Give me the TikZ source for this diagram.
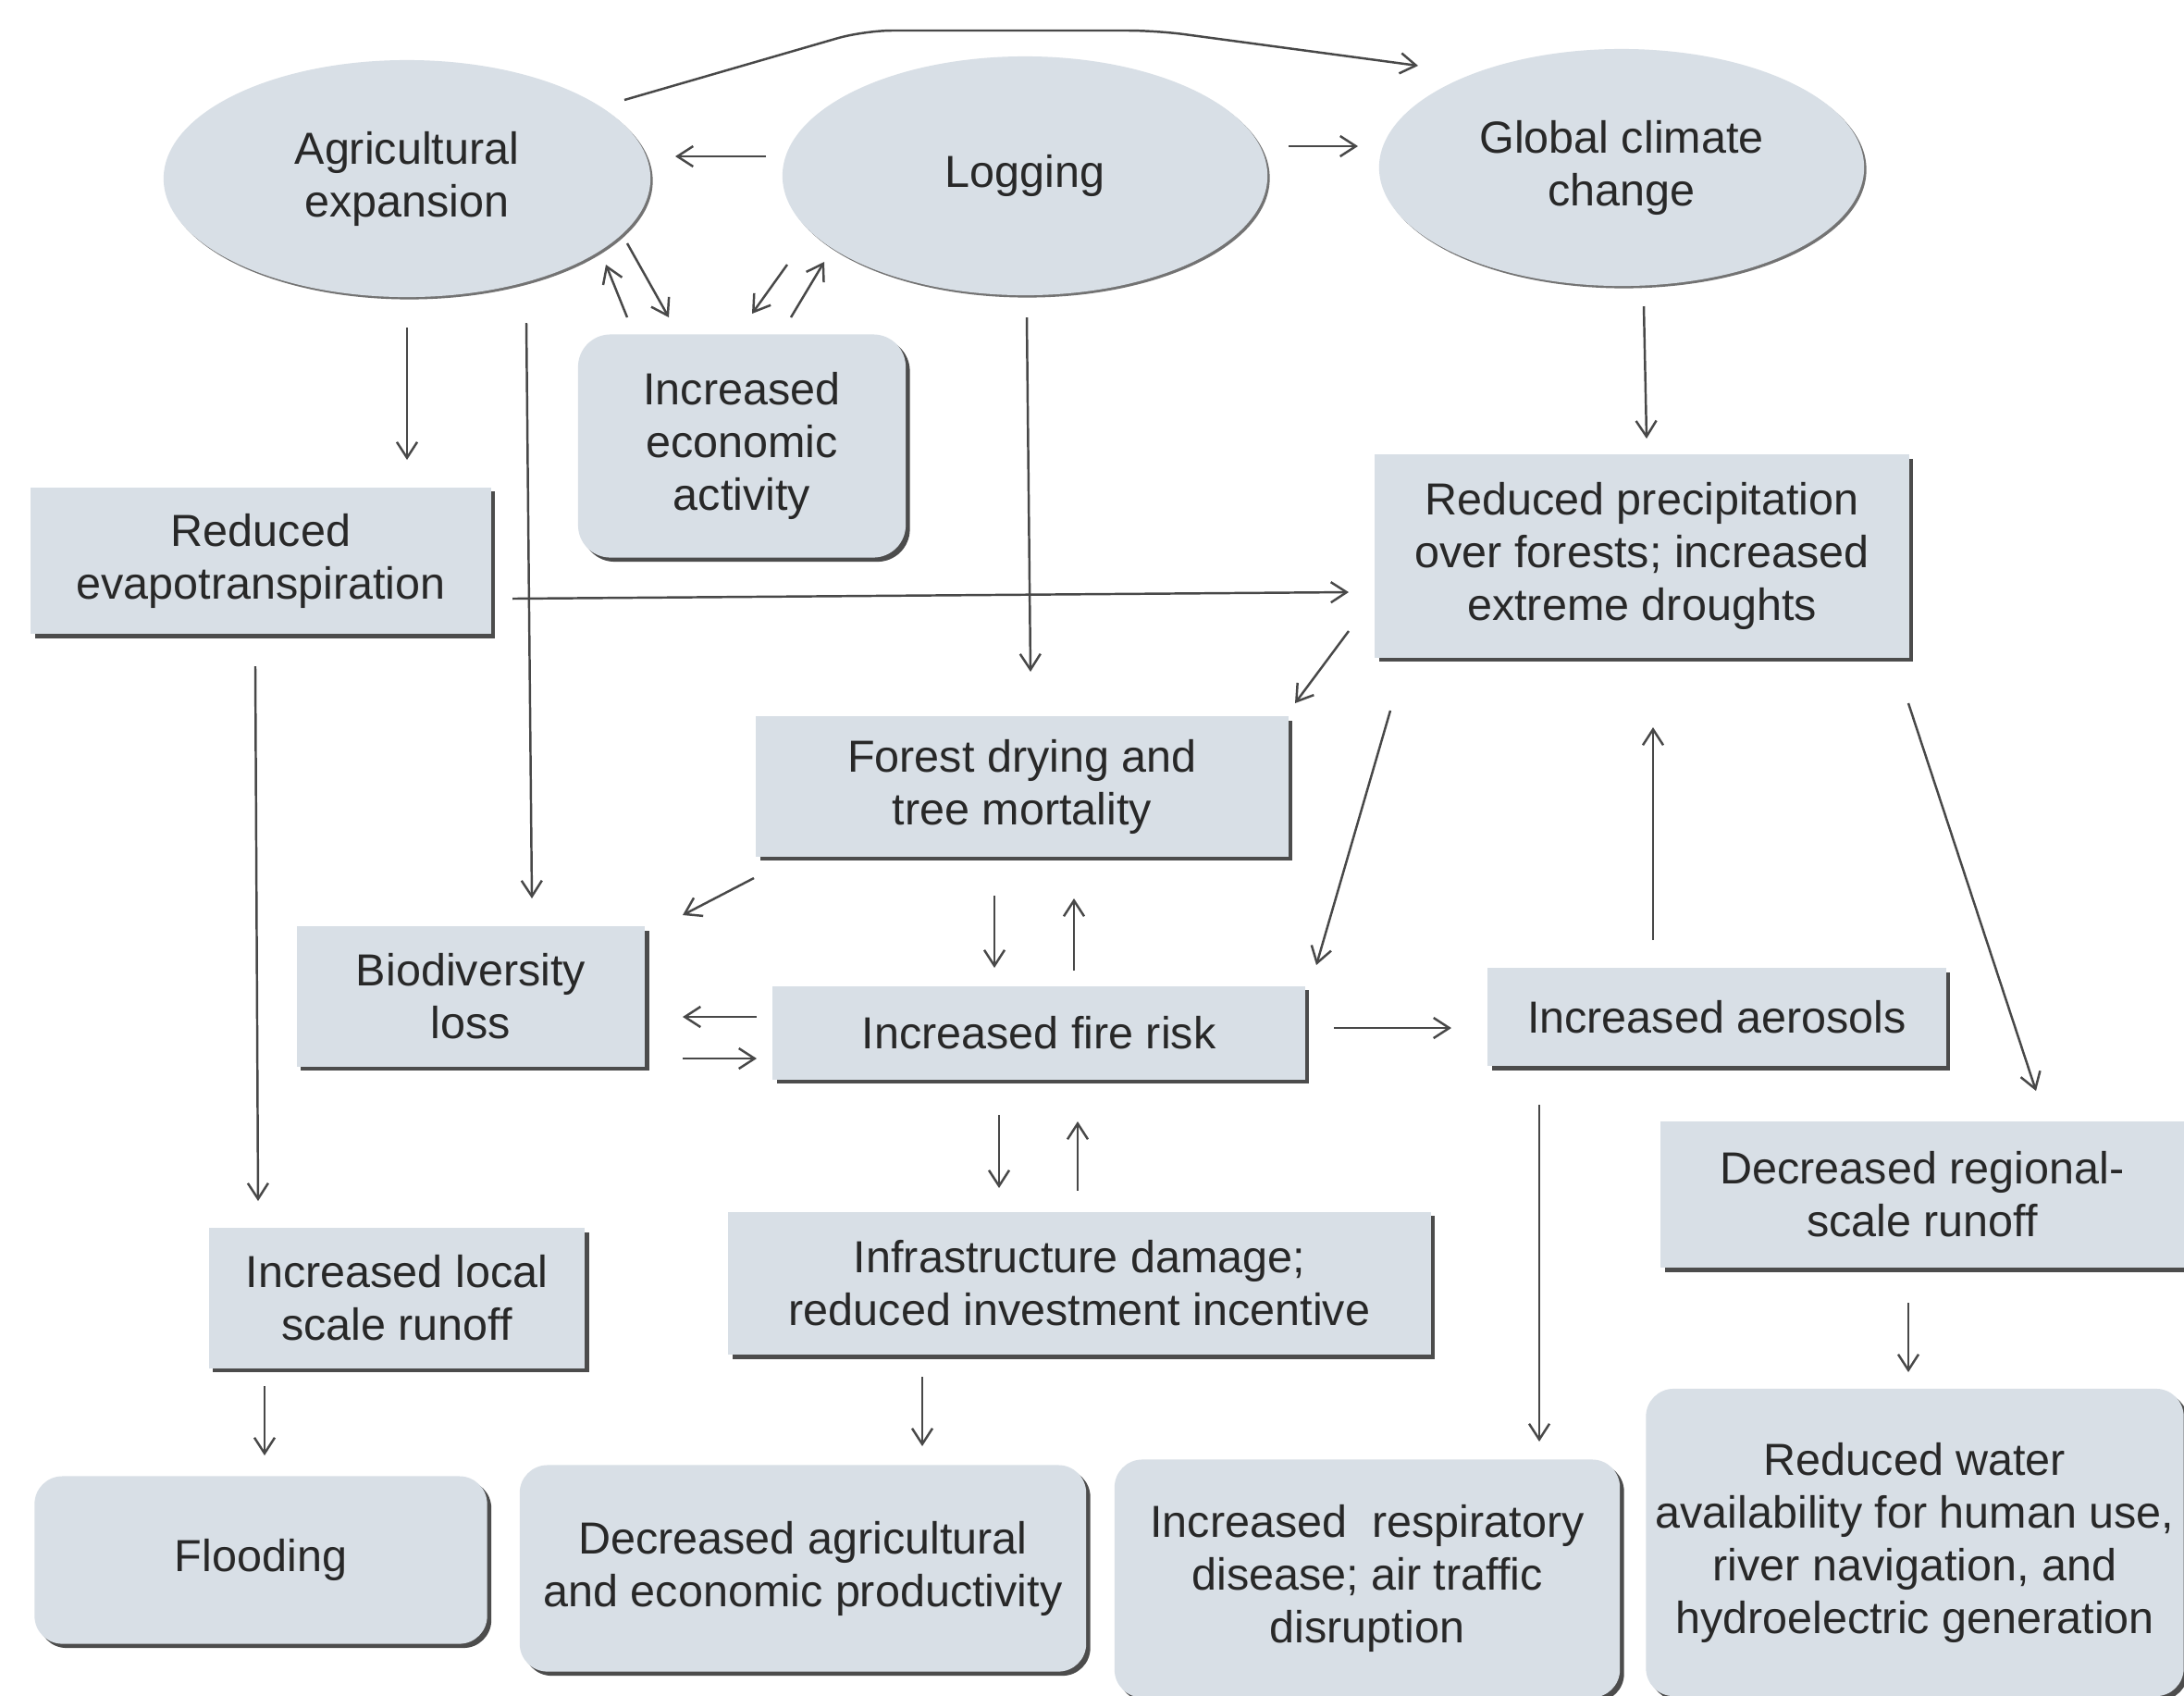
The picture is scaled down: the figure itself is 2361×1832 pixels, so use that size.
\documentclass[tikz,border=0pt]{standalone}
\usepackage{fontspec}
\setmainfont{Liberation Sans}
\usetikzlibrary{shapes.geometric,shadows,calc,arrows.meta}
\definecolor{boxfill}{RGB}{216,223,230}
\definecolor{linecol}{RGB}{72,72,72}
\definecolor{txt}{RGB}{40,40,40}
\begin{document}
\begin{tikzpicture}[x=0.01cm,y=-0.01cm,
 base/.style={fill=boxfill, text=txt, font=\fontsize{13.8}{16.2}\selectfont, align=center, inner sep=0pt},
 sbox/.style={base, rectangle, drop shadow={shadow xshift=0.045cm, shadow yshift=-0.045cm, fill=black!70, opacity=1}},
 rbox/.style={sbox, rounded corners=0.3cm},
 ell/.style={base, ellipse, drop shadow={shadow xshift=0.025cm, shadow yshift=-0.025cm, fill=black!55, opacity=1}},
 arr/.style={-{Straight Barb[length=0.17cm,width=0.22cm]}, draw=linecol, line width=0.7pt}]
\useasboundingbox (0,0) rectangle (2361,1832);
\clip (0,0) rectangle (2361,1832);
\fill[white] (0,0) rectangle (2361,1832);

% ellipses
\node[ell, minimum width=5.26cm, minimum height=2.56cm] (agri) at (440,193) {Agricultural\\expansion};
\node[ell, minimum width=5.24cm, minimum height=2.58cm] (log) at (1108,190) {Logging};
\node[ell, minimum width=5.24cm, minimum height=2.56cm] (glob) at (1753,181) {Global climate\\change};

% boxes
\node[rbox, rounded corners=0.35cm, minimum width=3.54cm, minimum height=2.41cm] (econ) at (802,482) {Increased\\economic\\activity};
\node[sbox, minimum width=4.97cm, minimum height=1.58cm] (evapo) at (282,606) {Reduced\\evapotranspiration};
\node[sbox, minimum width=5.77cm, minimum height=2.19cm] (precip) at (1775,601) {Reduced precipitation\\over forests; increased\\extreme droughts};
\node[sbox, minimum width=5.75cm, minimum height=1.51cm] (forest) at (1105,850) {Forest drying and\\tree mortality};
\node[sbox, minimum width=3.76cm, minimum height=1.51cm] (biod) at (509,1077) {Biodiversity\\loss};
\node[sbox, minimum width=5.75cm, minimum height=1.01cm] (fire) at (1123,1116) {Increased fire risk};
\node[sbox, minimum width=4.95cm, minimum height=1.06cm] (aeros) at (1856,1099) {Increased aerosols};
\node[sbox, minimum width=5.65cm, minimum height=1.58cm] (regional) at (2078,1291) {Decreased regional-\\scale runoff};
\node[sbox, minimum width=4.06cm, minimum height=1.51cm] (local) at (429,1403) {Increased local\\scale runoff};
\node[sbox, minimum width=7.59cm, minimum height=1.54cm] (infra) at (1167,1387) {Infrastructure damage;\\reduced investment incentive};
\node[rbox, minimum width=4.89cm, minimum height=1.81cm] (flood) at (282,1686) {Flooding};
\node[rbox, minimum width=6.12cm, minimum height=2.23cm] (decagri) at (868,1695) {Decreased agricultural\\and economic productivity};
\node[rbox, minimum width=5.46cm, minimum height=2.57cm] (resp) at (1478,1706) {Increased\ \ respiratory\\disease; air traffic\\disruption};
\node[rbox, minimum width=5.81cm, minimum height=3.32cm] (water) at (2070,1667) {Reduced water\\availability for human use,\\river navigation, and\\hydroelectric generation};

% connectors
\draw[arr, rounded corners=0.3cm] ($(agri)+(235,-85)$) -- (934,33) -- (1250,33) -- ($(glob)+(-220,-110)$);
\draw[arr] ($(log)+(-280,-21)$) -- ($(agri)+(290,-24)$);
\draw[arr] ($(log)+(285,-32)$) -- ($(glob)+(-285,-23)$);
\draw[arr] ($(econ)+(-124,-139)$) -- ($(agri)+(215,93)$);
\draw[arr] ($(agri)+(238,70)$) -- ($(econ)+(-79,-139)$);
\draw[arr] ($(log)+(-257,96)$) -- ($(econ)+(11,-143)$);
\draw[arr] ($(econ)+(53,-139)$) -- ($(log)+(-217,93)$);
\draw[arr] ($(agri)+(0,161)$) -- ($(evapo)+(158,-109)$);
\draw[arr] ($(agri)+(129,156)$) -- ($(biod)+(66,-106)$);
\draw[arr] ($(log)+(2,153)$) -- ($(forest)+(9,-124)$);
\draw[arr] ($(glob)+(24,150)$) -- ($(precip)+(5,-127)$);
\draw[arr] ($(evapo)+(272,41)$) -- ($(precip)+(-317,39)$);
\draw[arr] ($(precip)+(-317,81)$) -- ($(forest)+(295,-90)$);
\draw[arr] ($(precip)+(-272,167)$) -- ($(fire)+(300,-73)$);
\draw[arr] ($(precip)+(288,159)$) -- ($(regional)+(123,-112)$);
\draw[arr] ($(forest)+(-290,99)$) -- ($(biod)+(229,-88)$);
\draw[arr] ($(forest)+(-30,118)$) -- ($(fire)+(-48,-70)$);
\draw[arr] ($(fire)+(38,-67)$) -- ($(forest)+(56,121)$);
\draw[arr] ($(fire)+(-305,-17)$) -- ($(biod)+(229,22)$);
\draw[arr] ($(biod)+(229,67)$) -- ($(fire)+(-305,28)$);
\draw[arr] ($(fire)+(319,-5)$) -- ($(aeros)+(-287,12)$);
\draw[arr] ($(aeros)+(-69,-83)$) -- ($(precip)+(12,185)$);
\draw[arr] ($(fire)+(-43,89)$) -- ($(infra)+(-87,-103)$);
\draw[arr] ($(infra)+(-2,-100)$) -- ($(fire)+(42,96)$);
\draw[arr] ($(aeros)+(-192,95)$) -- ($(resp)+(186,-148)$);
\draw[arr] ($(evapo)+(-6,114)$) -- ($(local)+(-150,-105)$);
\draw[arr] ($(local)+(-143,95)$) -- ($(flood)+(4,-113)$);
\draw[arr] ($(infra)+(-170,101)$) -- ($(decagri)+(129,-132)$);
\draw[arr] ($(regional)+(-15,117)$) -- ($(water)+(-7,-184)$);
\end{tikzpicture}
\end{document}
